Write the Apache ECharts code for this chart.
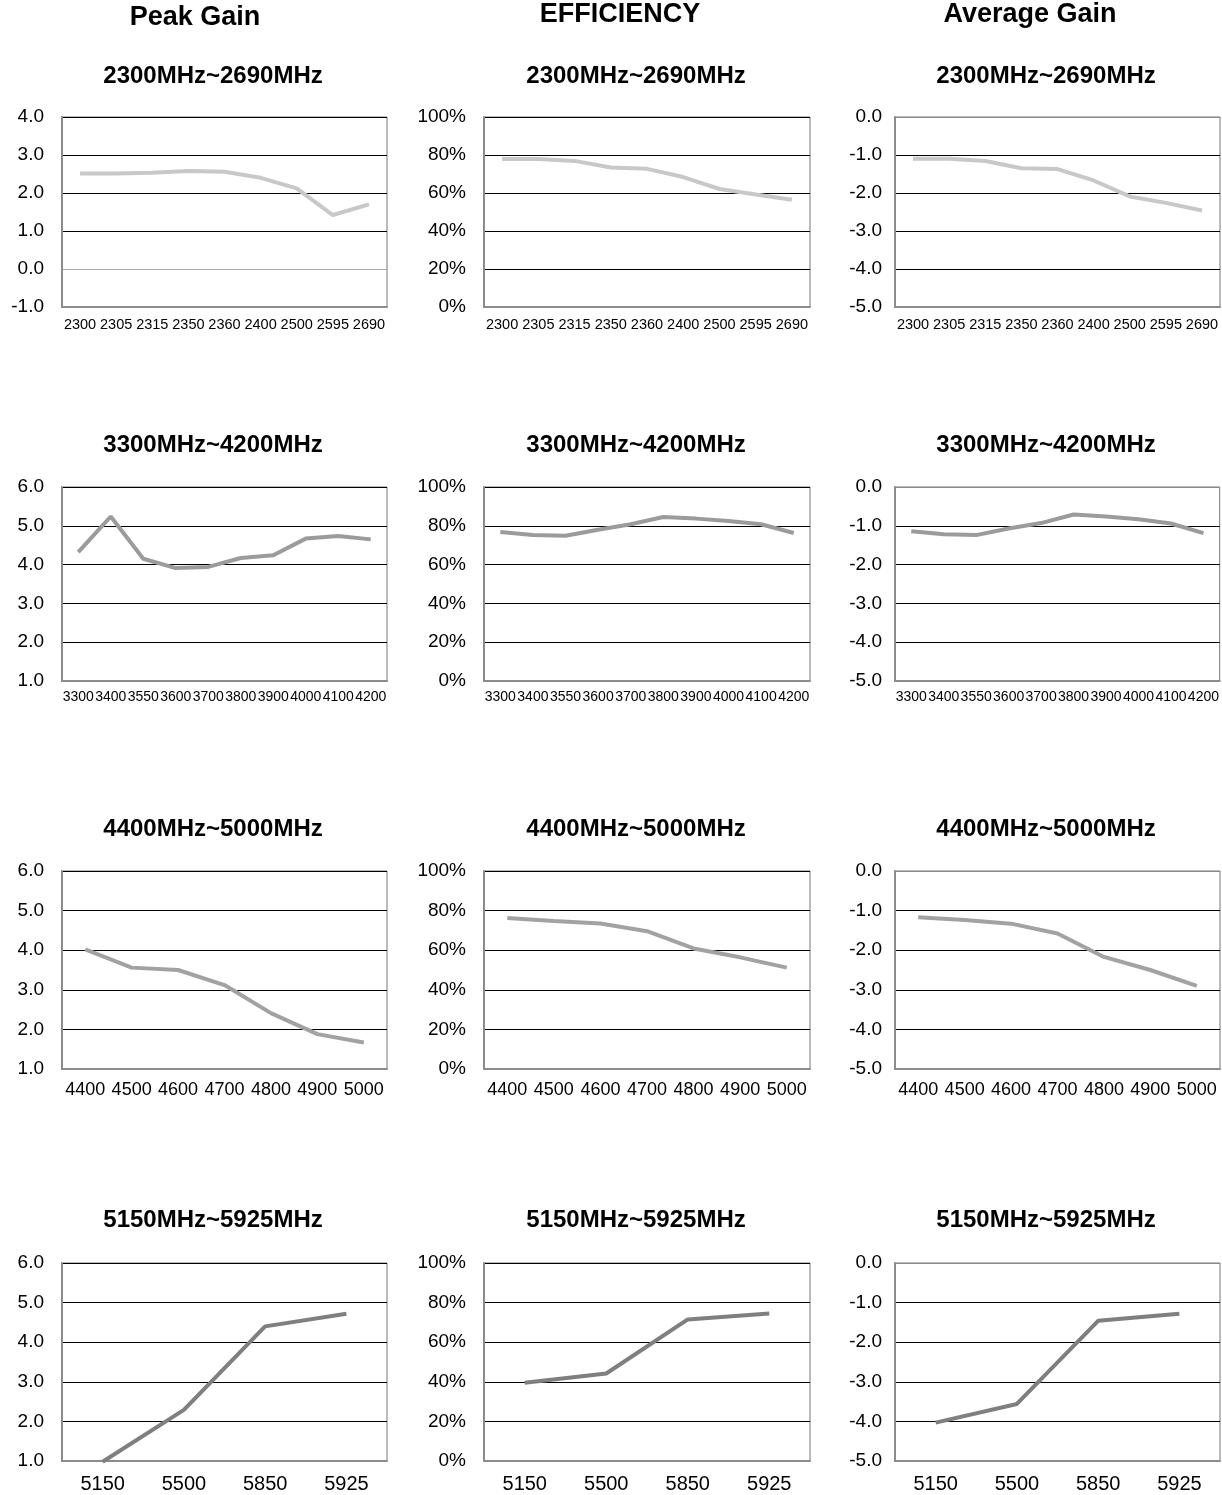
<!DOCTYPE html>
<html><head><meta charset="utf-8">
<script src="https://cdn.jsdelivr.net/npm/echarts@6/dist/echarts.min.js"></script>
<style>html,body{margin:0;padding:0;background:#fff}#c{width:1222px;height:1495px}</style>
</head><body><div id="c"></div>
<script>
// ---- data ----
const colHeaders = ['Peak Gain', 'EFFICIENCY', 'Average Gain'];
const bandTitles = ['2300MHz~2690MHz', '3300MHz~4200MHz', '4400MHz~5000MHz', '5150MHz~5925MHz'];

const freqs2300 = ['2300','2305','2315','2350','2360','2400','2500','2595','2690'];
const freqs3300 = ['3300','3400','3550','3600','3700','3800','3900','4000','4100','4200'];
const freqs4400 = ['4400','4500','4600','4700','4800','4900','5000'];
const freqs5150 = ['5150','5500','5850','5925'];

const peak2300 = [2.51, 2.51, 2.53, 2.58, 2.56, 2.40, 2.12, 1.42, 1.70];
const eff2300  = [77.9, 77.9, 76.9, 73.4, 72.7, 68.4, 62.1, 59.2, 56.5];
const avg2300  = [-1.10, -1.10, -1.16, -1.35, -1.37, -1.67, -2.09, -2.26, -2.46];

const peak3300 = [4.32, 5.24, 4.15, 3.91, 3.94, 4.17, 4.24, 4.67, 4.74, 4.65];
const eff3300  = [76.8, 75.3, 74.9, 78.0, 80.8, 84.5, 83.7, 82.5, 80.8, 76.3];
const avg3300  = [-1.14, -1.22, -1.24, -1.07, -0.93, -0.71, -0.76, -0.83, -0.94, -1.19];

const peak4400 = [4.02, 3.56, 3.50, 3.12, 2.41, 1.88, 1.67];
const eff4400  = [76.3, 74.8, 73.5, 69.6, 60.9, 56.4, 51.2];
const avg4400  = [-1.17, -1.24, -1.33, -1.58, -2.17, -2.50, -2.90];

const peak5150 = [0.98, 2.29, 4.40, 4.72];
const eff5150  = [39.5, 44.2, 71.5, 74.5];
const avg5150  = [-4.03, -3.56, -1.46, -1.28];

// y-axis ranges per column/row: [min, max, interval]
const peakRange1 = [-1, 4, 1];
const peakRange  = [1, 6, 1];
const effRange   = [0, 100, 20];
const avgRange   = [-5, 0, 1];

// ---- assembly ----
const rowsCats = [freqs2300, freqs3300, freqs4400, freqs5150];
const rowsData = [
  [peak2300, eff2300, avg2300],
  [peak3300, eff3300, avg3300],
  [peak4400, eff4400, avg4400],
  [peak5150, eff5150, avg5150]
];

const gridLefts = [62, 484, 895];
const gridWidths = [325, 326, 325];
const gridTops = [117, 487, 871, 1263];
const gridHeights = [190, 194, 198, 198];
const lineColors = ['#c8c8c8', '#9b9b9b', '#a2a2a2', '#7f7f7f'];
const xFont = [14.5, 14, 18, 20];
const xMargin = [10, 9, 12, 13];
const FONT = '"Liberation Sans", Arial, Helvetica, sans-serif';

const grids = [], xAxes = [], yAxes = [], series = [], graphics = [];

const headerX = [195, 620, 1030], headerY = [18, 15, 15];
colHeaders.forEach((t, c) => graphics.push({
  type: 'text', x: headerX[c], y: headerY[c],
  style: { text: t, font: 'bold 27px ' + FONT, fill: '#000', align: 'center', verticalAlign: 'middle' }
}));
const subX = [213, 636, 1046], subY = [76, 445, 829, 1220];

for (let r = 0; r < 4; r++) {
  for (let c = 0; c < 3; c++) {
    const idx = grids.length;
    graphics.push({
      type: 'text', x: subX[c], y: subY[r],
      style: { text: bandTitles[r], font: 'bold 24px ' + FONT, fill: '#000', align: 'center', verticalAlign: 'middle' }
    });
    grids.push({
      left: gridLefts[c], top: gridTops[r], width: gridWidths[c], height: gridHeights[r],
      show: true, borderColor: '#777', borderWidth: 1, backgroundColor: '#fff'
    });
    xAxes.push({
      type: 'category', gridIndex: idx, data: rowsCats[r], boundaryGap: true,
      axisLine: { show: true, onZero: false, lineStyle: { color: '#8c8c8c', width: 2 } },
      axisTick: { show: false },
      axisLabel: { interval: 0, color: '#000', fontSize: xFont[r], fontFamily: FONT, margin: xMargin[r] },
      splitLine: { show: false }
    });
    let rng, fmt, splitColors;
    if (c === 0) {
      rng = r === 0 ? peakRange1 : peakRange;
      fmt = v => v.toFixed(1);
      splitColors = r === 0 ? ['#8c8c8c', '#aaaaaa', '#000', '#000', '#000', '#000']
                            : ['#8c8c8c', '#000', '#000', '#000', '#000', '#000'];
    } else if (c === 1) {
      rng = effRange;
      fmt = v => v + '%';
      splitColors = ['#8c8c8c', '#000', '#000', '#000', '#000', '#000'];
    } else {
      rng = avgRange;
      fmt = v => v.toFixed(1);
      splitColors = ['#8c8c8c', '#000', '#000', '#000', '#000', '#8c8c8c'];
    }
    yAxes.push({
      type: 'value', gridIndex: idx, min: rng[0], max: rng[1], interval: rng[2],
      axisLine: { show: true, lineStyle: { color: '#8c8c8c', width: 2 } },
      axisTick: { show: false },
      axisLabel: { color: '#000', fontSize: 19, fontFamily: FONT, margin: c === 2 ? 13 : 18, formatter: fmt },
      splitLine: { show: true, lineStyle: { color: splitColors, width: 1 } }
    });
    series.push({
      type: 'line', xAxisIndex: idx, yAxisIndex: idx, data: rowsData[r][c],
      symbol: 'none', clip: false, silent: true,
      lineStyle: { color: lineColors[r], width: 4 },
      z: 5
    });
  }
}

const chart = echarts.init(document.getElementById('c'), null, { renderer: 'canvas' });
chart.setOption({
  backgroundColor: '#fff',
  animation: false,
  grid: grids, xAxis: xAxes, yAxis: yAxes, series: series,
  graphic: graphics
});
</script>
</body></html>
